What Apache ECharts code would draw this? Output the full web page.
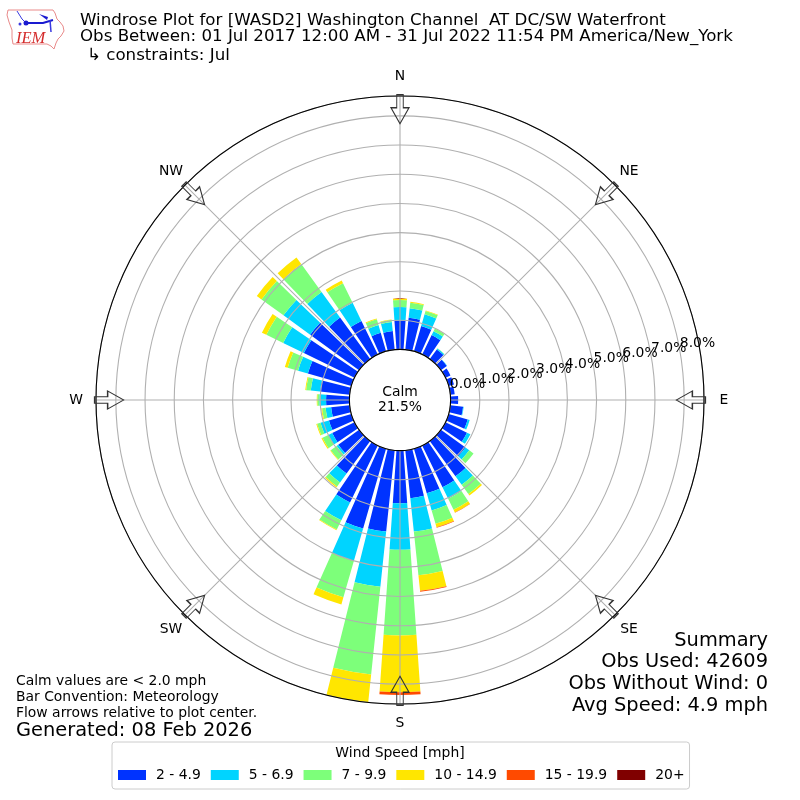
<!DOCTYPE html>
<html>
<head>
<meta charset="utf-8">
<style>html,body{margin:0;padding:0;background:#fff}#c{width:800px;height:800px}</style>
<script src="https://cdn.jsdelivr.net/npm/echarts@6/dist/echarts.min.js"></script>
</head>
<body>
<div id="c"></div>
<script>
// Direction bins, degrees clockwise from north
const directions = [0,10,20,30,40,50,60,70,80,90,100,110,120,130,140,150,160,170,180,190,200,210,220,230,240,250,260,270,280,290,300,310,320,330,340,350];
// Percent of observations per bin and speed class
const speed2to5 = [1.0,1.1,.9,.74,.41,.25,.19,.19,.15,.26,.44,.68,.82,1.04,1.5,1.59,1.59,1.65,1.8,2.8,2.85,2.17,1.38,.88,.85,.8,.64,.8,1.02,1.55,1.93,2.07,1.76,1.28,.66,.64];
const speed5to7 = [.45,.33,.42,.15,.04,.01,0,0,0,0,.02,.07,.13,.16,.36,.44,.61,1.15,1.6,1.9,1.15,.68,.38,.07,.15,.3,.19,.23,.32,.35,.79,1.13,1.08,.69,.28,.31];
const speed7to10 = [.24,.19,.12,.1,.01,0,0,0,0,0,0,0,0,.18,.39,.42,.48,1.5,2.93,3.02,1.3,.35,.17,.25,.22,.12,.12,.07,.16,.37,.64,.93,1.18,.75,.2,.07];
const speed10to15 = [.05,.03,.02,.01,0,0,0,0,0,0,0,0,0,0,.06,.1,.12,.54,1.95,.96,.25,.03,.04,.02,.04,.03,.03,.02,.03,.1,.17,.2,.28,.1,.03,.02];
const speed15to20 = [0,0,0,0,0,0,0,0,0,0,0,0,0,0,0,.01,.02,.03,.09,0,0,0,0,0,0,0,0,0,0,0,0,0,0,0,0,0];
const speed20plus = [0,0,0,0,0,0,0,0,0,0,0,0,0,0,0,0,0,0,0,0,0,0,0,0,0,0,0,0,0,0,0,0,0,0,0,0];
const speedNames = ['2 - 4.9','5 - 6.9','7 - 9.9','10 - 14.9','15 - 19.9','20+'];
const speedColors = ['#0033ff','#00d4ff','#7dff7a','#ffe600','#ff4a00','#800000'];
const speedValues = [speed2to5,speed5to7,speed7to10,speed10to15,speed15to20,speed20plus];
const compassNames = ['N','NE','E','SE','S','SW','W','NW'];
const compassAngles = [0,45,90,135,180,225,270,315];
const radialMax = 8.68;
const arrowRadius = 8.23;
const compassLabelRadius = 9.36;

const titleLines = ['Windrose Plot for [WASD2] Washington Channel  AT DC/SW Waterfront',
                    'Obs Between: 01 Jul 2017 12:00 AM - 31 Jul 2022 11:54 PM America/New_York'];
const constraintLine = '\u21b3 constraints: Jul';
const summaryLines = ['Summary','Obs Used: 42609','Obs Without Wind: 0','Avg Speed: 4.9 mph'];
const noteLines = ['Calm values are < 2.0 mph','Bar Convention: Meteorology','Flow arrows relative to plot center.'];
const generatedLine = 'Generated: 08 Feb 2026';
const calmLines = ['Calm','21.5%'];

const FONT = '"DejaVu Sans"';
const ARROW = 'path://M9,0 L18,16 L12.25,16 L12.25,29 L5.75,29 L5.75,16 L0,16 Z';
const polarBox = {center:[400,400], radius:[50.6,304]};
const txt = (x,y,text,size,align) => ({type:'text',x,y,z:20,style:{text,font:size+'px '+FONT,fill:'#000',textAlign:align||'left',textVerticalAlign:'middle'}});
const hidden = {axisLine:{show:false},axisTick:{show:false},axisLabel:{show:false},splitLine:{show:false}};

const barSeries = speedNames.map((name,i)=>({
  type:'bar',name,coordinateSystem:'polar',polarIndex:0,stack:'wind',
  barWidth:'80%',z:2,
  itemStyle:{color:speedColors[i]},data:speedValues[i]
}));

const option = {
  animation:false,
  backgroundColor:'#fff',
  textStyle:{fontFamily:FONT},
  polar:[polarBox,polarBox,polarBox],
  angleAxis:[
    {polarIndex:0,type:'category',data:directions,boundaryGap:false,startAngle:90,clockwise:true,z:6,
     axisLine:{show:true,lineStyle:{color:'#000',width:1.1}},axisTick:{show:false},axisLabel:{show:false},splitLine:{show:false}},
    {polarIndex:1,type:'value',min:0,max:360,interval:45,startAngle:90,clockwise:true,z:4,
     axisLine:{show:false},axisTick:{show:false},axisLabel:{show:false},
     splitLine:{show:true,lineStyle:{color:'#b0b0b0',width:1.1}}},
    {polarIndex:2,type:'value',min:0,max:360,startAngle:10,clockwise:false,...hidden}
  ],
  radiusAxis:[
    {polarIndex:0,type:'value',min:0,max:radialMax,...hidden},
    {polarIndex:1,type:'value',min:0,max:radialMax,...hidden},
    {polarIndex:2,type:'value',min:0,max:radialMax,interval:1,z:4,
     axisLine:{show:false},axisTick:{show:false},
     splitLine:{show:true,lineStyle:{color:'#b0b0b0',width:1.1}},
     axisLabel:{show:true,margin:0,align:'left',verticalAlign:'bottom',color:'#000',fontSize:13.9,fontFamily:FONT,
       showMaxLabel:false,
       formatter:v=>Number.isInteger(v)?v.toFixed(1)+'%':''}}
  ],
  legend:{
    left:112,top:742,orient:'horizontal',icon:'rect',itemWidth:28,itemHeight:10,itemGap:10,
    padding:[26,5,7,6],borderColor:'#ccc',borderWidth:1,borderRadius:3,backgroundColor:'#fff',
    selectedMode:false,data:speedNames,
    textStyle:{color:'#000',fontSize:13.9,fontFamily:FONT,padding:[0,0,0,5]}
  },
  series:[
    ...barSeries,
    {type:'scatter',coordinateSystem:'polar',polarIndex:2,clip:false,z:9,silent:true,symbolSize:0,
     itemStyle:{opacity:1},
     data:[{value:[0,0],name:'0.0%'}],
     label:{show:true,position:[0,0],align:'left',verticalAlign:'bottom',formatter:'{b}',color:'#000',fontSize:13.9,fontFamily:FONT}},
    {type:'scatter',coordinateSystem:'polar',polarIndex:1,clip:false,z:8,silent:true,
     symbol:ARROW,symbolSize:[18,29],
     data:compassAngles.map(a=>({value:[arrowRadius,a],symbolRotate:180-a})),
     itemStyle:{color:'rgba(255,255,255,0)',borderColor:'#333',borderWidth:1.2,opacity:1}},
    {type:'scatter',coordinateSystem:'polar',polarIndex:1,clip:false,z:9,silent:true,
     symbolSize:0,itemStyle:{opacity:1},
     data:compassAngles.map((a,i)=>({value:[compassLabelRadius,a],name:compassNames[i]})),
     label:{show:true,position:[0,0],align:'center',verticalAlign:'middle',formatter:'{b}',color:'#000',fontSize:13.9,fontFamily:FONT}}
  ],
  graphic:{elements:[
    // IEM logo
    {type:'polyline',z:20,shape:{points:[[8,10],[53,10],[55,13],[57,19],[60,22],[63,26],[64,31],[61,36],[58,39],[56,43],[54,49],[51,46],[47,44],[13,44],[12,38],[12,30],[9,22],[7,15],[8,10]]},style:{stroke:'#e98a8a',fill:'#fff',lineWidth:1}},
    {type:'polyline',z:21,shape:{points:[[17,11],[22,19],[26,23]]},style:{stroke:'#3a3ae0',fill:null,lineWidth:1}},
    {type:'polyline',z:21,shape:{points:[[24,23],[43,23],[53,20]]},style:{stroke:'#1a1ad0',fill:null,lineWidth:2}},
    {type:'circle',z:21,shape:{cx:26,cy:23,r:2.5},style:{fill:'#1a1ad0'}},
    {type:'circle',z:21,shape:{cx:20,cy:24,r:1.5},style:{fill:'#3a3ae0'}},
    {type:'polygon',z:21,shape:{points:[[39,14],[48,17],[47,20]]},style:{fill:'#1a1ad0'}},
    {type:'polyline',z:21,shape:{points:[[50,20],[51,32]]},style:{stroke:'#3a3ae0',fill:null,lineWidth:1.5}},
    {type:'text',x:16,y:39,z:21,style:{text:'IEM',font:'italic 16.5px "Liberation Serif"',fill:'#d42a2a',textVerticalAlign:'middle'}},
    // heading
    txt(80,21,titleLines[0],16.67),
    txt(80,37,titleLines[1],16.67),
    txt(87,56,constraintLine,16.67),
    // calm
    txt(400,392,calmLines[0],13.9,'center'),
    txt(400,407,calmLines[1],13.9,'center'),
    // summary
    txt(768,641,summaryLines[0],19.4,'right'),
    txt(768,662,summaryLines[1],19.4,'right'),
    txt(768,684,summaryLines[2],19.4,'right'),
    txt(768,706,summaryLines[3],19.4,'right'),
    // notes
    txt(16,681,noteLines[0],13.9),
    txt(16,697,noteLines[1],13.9),
    txt(16,713,noteLines[2],13.9),
    txt(16,731,generatedLine,19.4),
    txt(400,753,'Wind Speed [mph]',13.9,'center')
  ]}
};
echarts.init(document.getElementById('c')).setOption(option);
</script>
</body>
</html>
